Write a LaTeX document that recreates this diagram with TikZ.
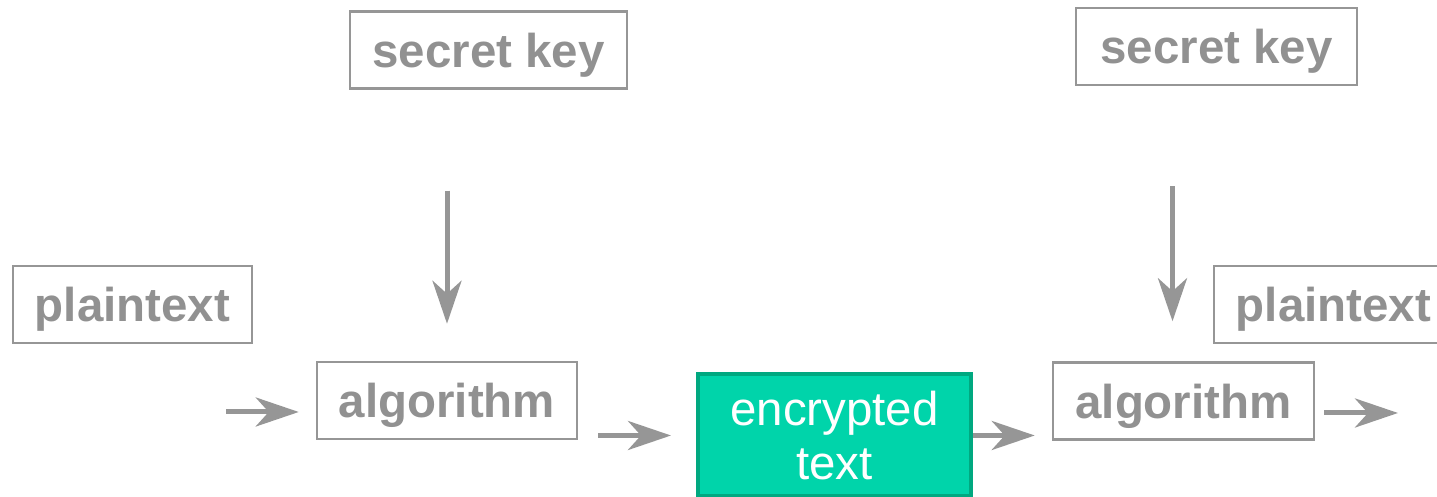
\documentclass[tikz,border=0pt]{standalone}
\usepackage{fontspec}
\setmainfont{Liberation Sans}
\usepackage{xcolor}
\usetikzlibrary{arrows.meta,positioning,calc}
\definecolor{boxgray}{RGB}{150,150,150}
\definecolor{txtgray}{RGB}{145,145,145}
\definecolor{encfill}{RGB}{0,212,170}
\definecolor{encline}{RGB}{0,168,128}

\begin{document}
\begin{tikzpicture}[font=\fontsize{27}{31}\selectfont, >={Stealth[length=0.86cm, width=0.58cm, inset=0.26cm]},
  box/.style={draw=boxgray, line width=0.05cm, inner sep=0pt, align=center, minimum height=1.54cm, text depth=0pt, text=txtgray, font=\fontsize{27}{31}\selectfont\bfseries},
  enc/.style={draw=encline, fill=encfill, line width=0.08cm, inner sep=0pt, align=center, text=white, minimum width=5.46cm, minimum height=2.44cm},
  flow/.style={->, draw=boxgray, line width=0.1cm}]
\clip (0,0) rectangle (28.74,9.94);
\node[box, minimum width=5.54cm] (keyA)   at (9.77,8.94)  {secret key};
\node[box, minimum width=5.62cm] (keyB)   at (24.33,9.01) {secret key};
\node[box, minimum width=4.78cm] (plainA) at (2.65,3.85)  {plaintext};
\node[box, minimum width=4.78cm] (plainB) at (26.67,3.85) {plaintext};
\node[box, minimum width=5.2cm]  (algA)   at (8.94,1.93)  {algorithm};
\node[box, minimum width=5.22cm] (algB)   at (23.67,1.92) {algorithm};
\node[enc] (ctext) at (16.69,1.23) {encrypted\\text};
\coordinate (in)  at (4.52,1.7);
\coordinate (out) at (27.96,1.68);
\draw[flow, shorten >=0.34cm] (in) -- (in -| algA.west);
\draw[flow, shorten <=0.4cm, shorten >=0.5cm] (algA.east |- ctext.west) -- (ctext.west);
\draw[flow, shorten >=0.34cm] (ctext.east) -- (algB.west |- ctext.east);
\draw[flow, shorten <=0.18cm] (algB.east |- out) -- (out);
\draw[flow, shorten <=2.02cm, shorten >=0.74cm] (algA.north |- keyA.south) -- (algA.north);
\draw[flow, shorten <=2.0cm, shorten >=0.8cm] ([xshift=-0.22cm]algB.north |- keyB.south) -- ([xshift=-0.22cm]algB.north);
\end{tikzpicture}
\end{document}
